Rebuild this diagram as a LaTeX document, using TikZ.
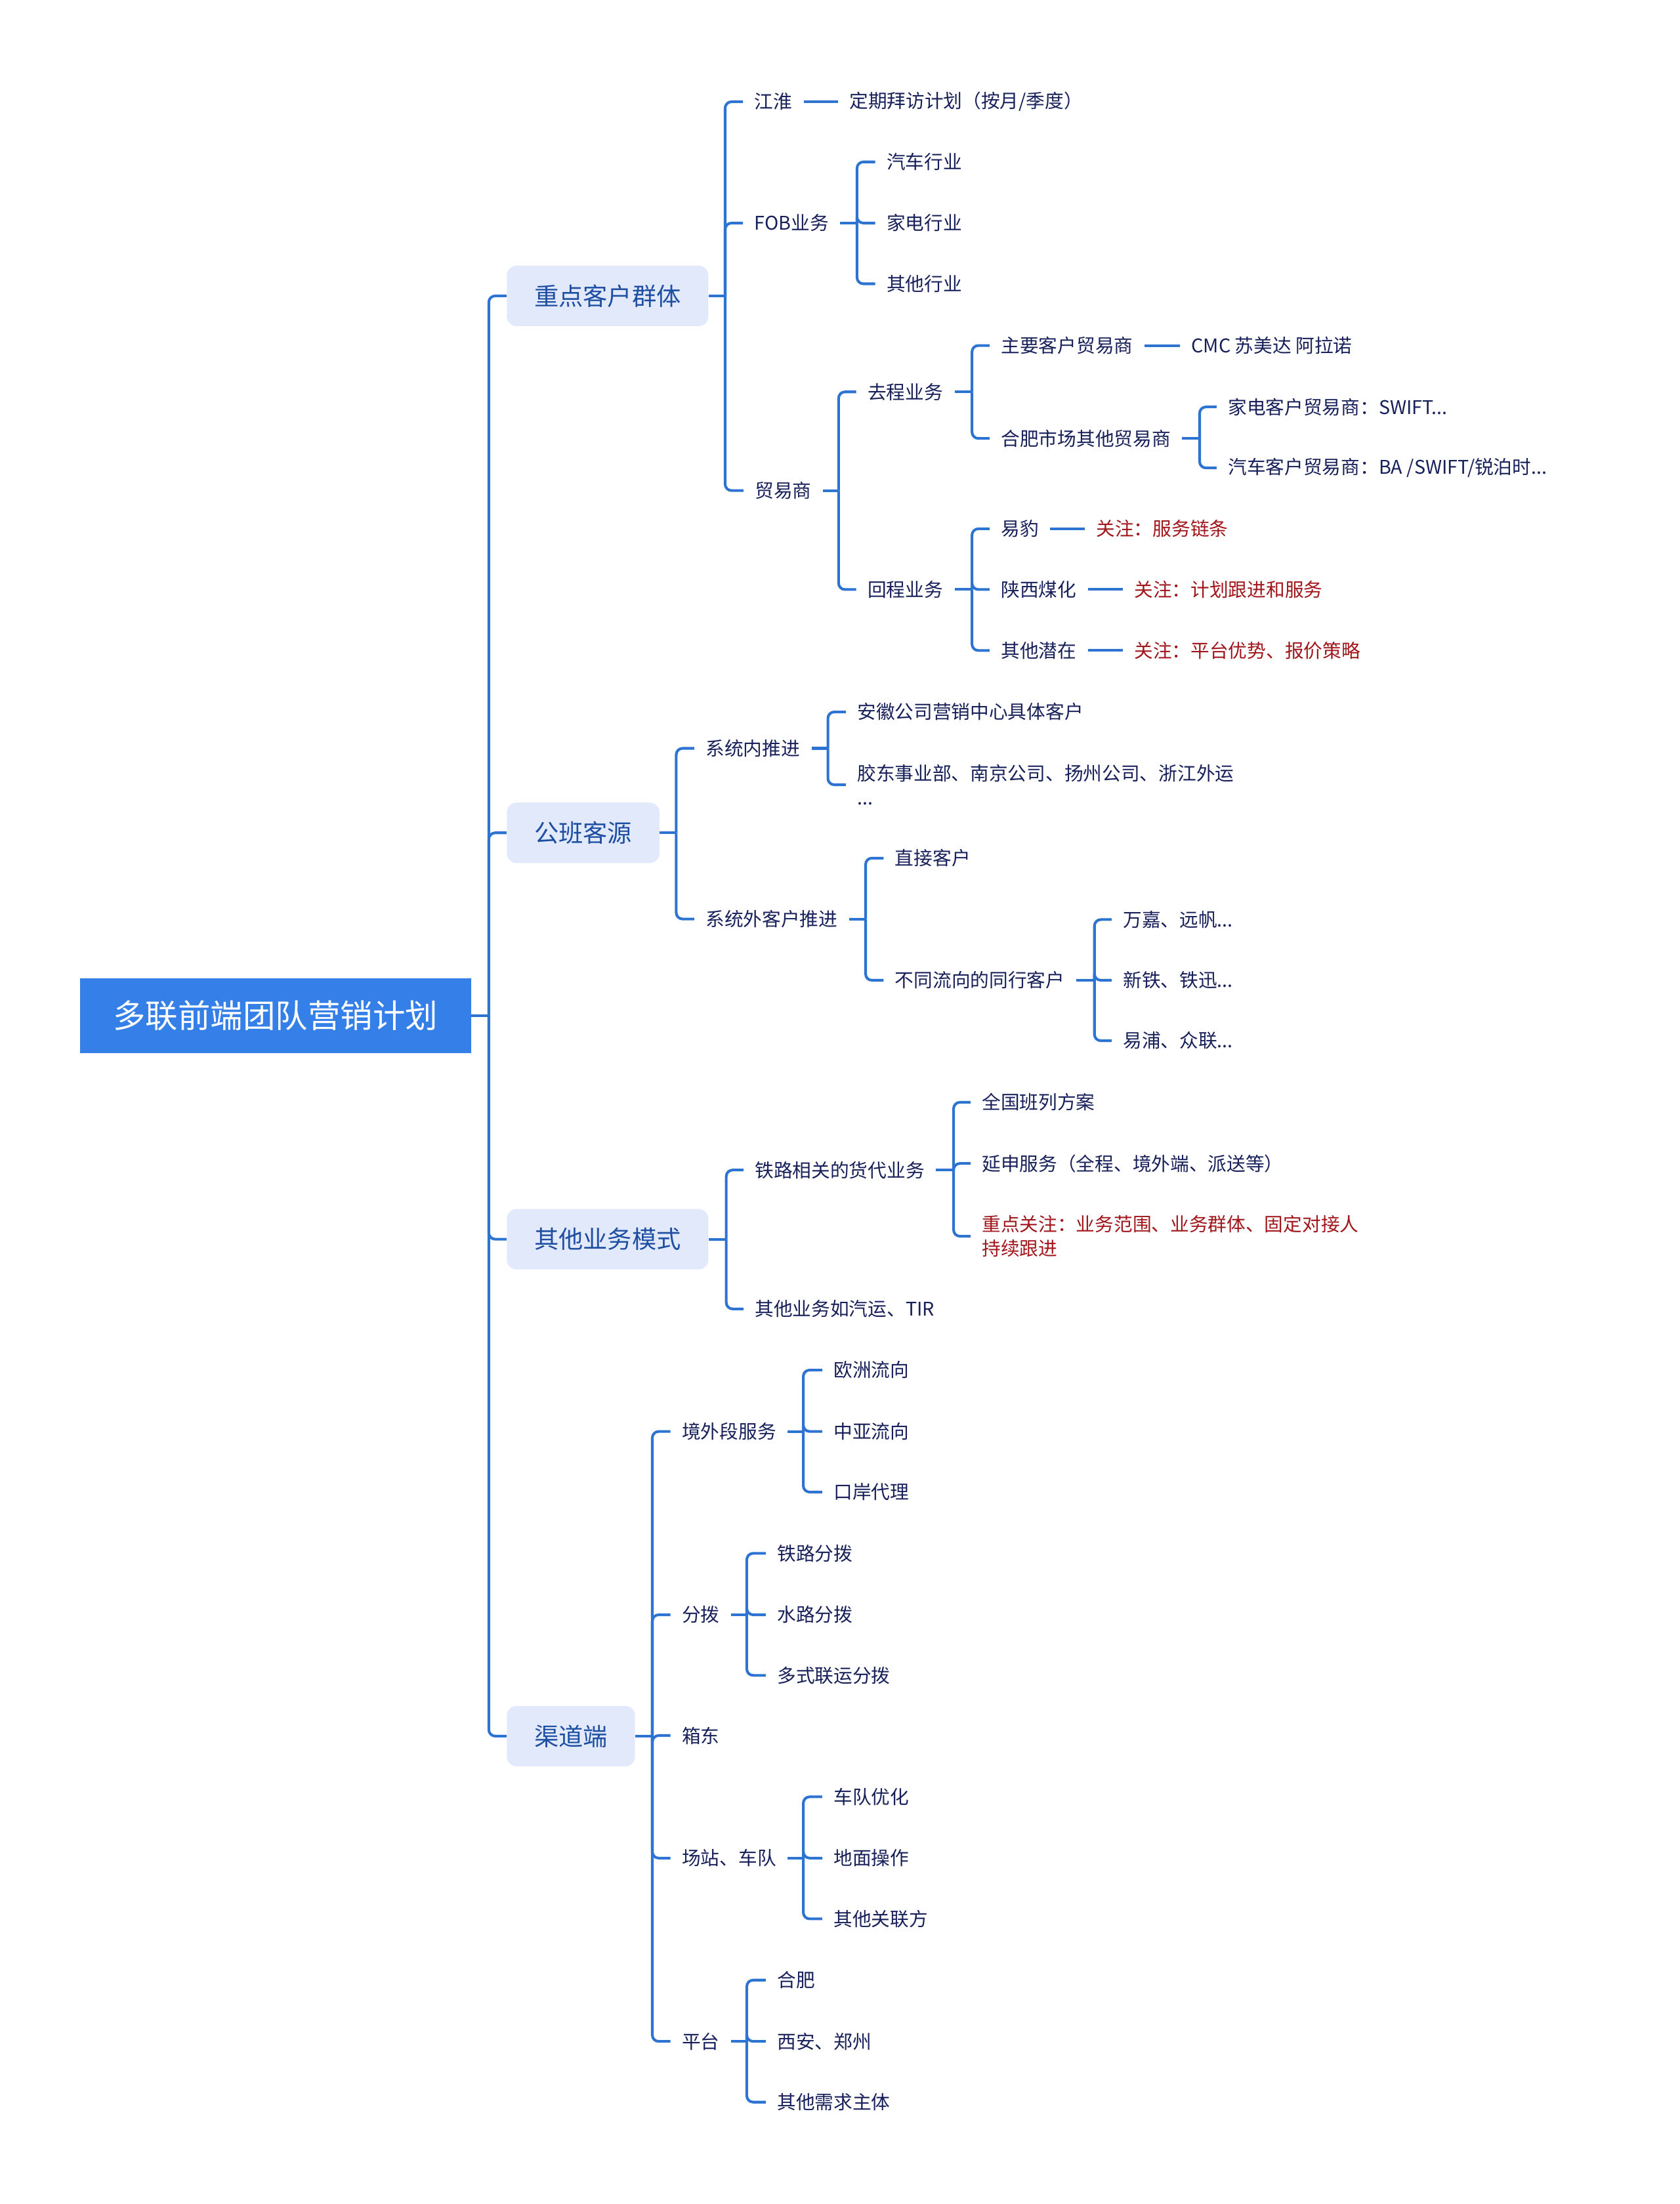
\documentclass[tikz,border=0pt]{standalone}
\usepackage{fontspec}
\newfontfamily\cjk{Noto Sans CJK SC}
\definecolor{rootblue}{HTML}{3580E8}
\definecolor{topicfill}{HTML}{E2E9FB}
\definecolor{topictext}{HTML}{1E4FA3}
\definecolor{leaftext}{HTML}{18205A}
\definecolor{hottext}{HTML}{A0161B}
\definecolor{linkblue}{HTML}{2C73D2}
\begin{document}
\begin{tikzpicture}[x=1pt,y=-1pt,
  conn/.style={draw=linkblue, line width=1.9pt, rounded corners=4.5pt},
  leaf/.style={anchor=west, inner sep=0pt, text=leaftext, align=left,
    font=\cjk\fontsize{13.4}{17.3}\selectfont},
  hot/.style={leaf, text=hottext},
  topic/.style={anchor=west, fill=topicfill, rounded corners=7pt, minimum height=43pt,
    inner xsep=19.5pt, inner ysep=0pt, text=topictext, font=\cjk\fontsize{17.4}{20}\selectfont},
  rootbox/.style={fill=rootblue, minimum width=278pt, minimum height=53pt, inner sep=0pt,
    text=white, font=\cjk\fontsize{23.1}{26}\selectfont}]
\useasboundingbox (0,0) rectangle (1195,1568);
\newcommand\stub[2]{\draw[conn] ([xshift=8pt]#1.east) -- (#2);}
\newcommand\kid[2]{\draw[conn] (#1) |- ([xshift=-8pt]#2.west);}
\newcommand\solo[2]{\draw[conn] ([xshift=8pt]#1.east) -- ([xshift=-8pt]#2.west);}

% root and topics
\node[rootbox] (R) at (196,722.5) {多联前端团队营销计划};
\node[topic] (A) at (360.3,210.5) {重点客户群体};
\node[topic] (B) at (360.3,592.5) {公班客源};
\node[topic] (C) at (360.3,881.6) {其他业务模式};
\node[topic] (D) at (360.3,1235.1) {渠道端};
\coordinate (sR) at (347.7,722.5);
\draw[conn] (R.east) -- (sR);
\foreach \n in {A,B,C,D} {\draw[conn] (sR) |- (\n.west);}

% ---------- A ----------
\node[leaf] (A1) at (536.5,72.4) {江淮};
\node[leaf] (A1a) at (604,72.4) {定期拜访计划（按月/季度）};
\node[leaf] (A2) at (536.5,158.7) {FOB业务};
\node[leaf] (A2a) at (630.5,115.2) {汽车行业};
\node[leaf] (A2b) at (630.5,158.7) {家电行业};
\node[leaf] (A2c) at (630.5,201.9) {其他行业};
\node[leaf] (A3) at (536.8,349) {贸易商};
\node[leaf] (A3a) at (617,278.8) {去程业务};
\node[leaf] (A3b) at (617,419.4) {回程业务};
\node[leaf] (A3a1) at (711.9,245.8) {主要客户贸易商};
\node[leaf] (A3a1x) at (847.3,245.8) {CMC 苏美达 阿拉诺};
\node[leaf] (A3a2) at (711.9,311.9) {合肥市场其他贸易商};
\node[leaf] (A3a2a) at (873.4,289.5) {家电客户贸易商：SWIFT...};
\node[leaf] (A3a2b) at (873.4,332.9) {汽车客户贸易商：BA /SWIFT/锐泊时...};
\node[leaf] (A3b1) at (711.9,376.2) {易豹};
\node[hot] (A3b1x) at (779.6,376.2) {关注：服务链条};
\node[leaf] (A3b2) at (711.9,419.4) {陕西煤化};
\node[hot] (A3b2x) at (806.6,419.4) {关注：计划跟进和服务};
\node[leaf] (A3b3) at (711.9,462.8) {其他潜在};
\node[hot] (A3b3x) at (806.6,462.8) {关注：平台优势、报价策略};

\coordinate (sA) at (515.8,210.5);
\draw[conn] (A.east) -- (sA);
\foreach \c in {A1,A2,A3} {\kid{sA}{\c}}
\solo{A1}{A1a}
\coordinate (sA2) at (609.6,158.7);
\stub{A2}{sA2}
\foreach \c in {A2a,A2b,A2c} {\kid{sA2}{\c}}
\coordinate (sA3) at (596.5,349);
\stub{A3}{sA3}
\foreach \c in {A3a,A3b} {\kid{sA3}{\c}}
\coordinate (sA3a) at (691.4,278.8);
\stub{A3a}{sA3a}
\foreach \c in {A3a1,A3a2} {\kid{sA3a}{\c}}
\solo{A3a1}{A3a1x}
\coordinate (sA3a2) at (853.3,311.9);
\stub{A3a2}{sA3a2}
\foreach \c in {A3a2a,A3a2b} {\kid{sA3a2}{\c}}
\coordinate (sA3b) at (691.4,419.4);
\stub{A3b}{sA3b}
\foreach \c in {A3b1,A3b2,A3b3} {\kid{sA3b}{\c}}
\solo{A3b1}{A3b1x}
\solo{A3b2}{A3b2x}
\solo{A3b3}{A3b3x}

% ---------- B ----------
\node[leaf] (B1) at (501.8,532.4) {系统内推进};
\node[leaf] (B1a) at (609.6,506.5) {安徽公司营销中心具体客户};
\node[leaf] (B1b) at (609.6,558.3) {胶东事业部、南京公司、扬州公司、浙江外运\\...};
\node[leaf] (B2) at (501.8,653.8) {系统外客户推进};
\node[leaf] (B2a) at (636.5,610.5) {直接客户};
\node[leaf] (B2b) at (636.5,697.4) {不同流向的同行客户};
\node[leaf] (B2b1) at (798.7,654.2) {万嘉、远帆...};
\node[leaf] (B2b2) at (798.7,697.4) {新铁、铁迅...};
\node[leaf] (B2b3) at (798.7,740.4) {易浦、众联...};

\coordinate (sB) at (481,592.5);
\draw[conn] (B.east) -- (sB);
\foreach \c in {B1,B2} {\kid{sB}{\c}}
\coordinate (sB1) at (588.9,532.4);
\stub{B1}{sB1}
\foreach \c in {B1a,B1b} {\kid{sB1}{\c}}
\coordinate (sB2) at (615.7,653.8);
\stub{B2}{sB2}
\foreach \c in {B2a,B2b} {\kid{sB2}{\c}}
\coordinate (sB2b) at (778.5,697.4);
\stub{B2b}{sB2b}
\foreach \c in {B2b1,B2b2,B2b3} {\kid{sB2b}{\c}}

% ---------- C ----------
\node[leaf] (C1) at (536.8,832.4) {铁路相关的货代业务};
\node[leaf] (C1a) at (698.3,784.2) {全国班列方案};
\node[leaf] (C1b) at (698.3,827.7) {延申服务（全程、境外端、派送等）};
\node[hot] (C1c) at (698.3,879.5) {重点关注：业务范围、业务群体、固定对接人\\持续跟进};
\node[leaf] (C2) at (536.8,931.2) {其他业务如汽运、TIR};

\coordinate (sC) at (516.6,881.6);
\draw[conn] (C.east) -- (sC);
\foreach \c in {C1,C2} {\kid{sC}{\c}}
\coordinate (sC1) at (678.3,832.4);
\stub{C1}{sC1}
\foreach \c in {C1a,C1b,C1c} {\kid{sC1}{\c}}

% ---------- D ----------
\node[leaf] (D1) at (484.9,1018.4) {境外段服务};
\node[leaf] (D1a) at (592.8,974.7) {欧洲流向};
\node[leaf] (D1b) at (592.8,1018.4) {中亚流向};
\node[leaf] (D1c) at (592.8,1061.5) {口岸代理};
\node[leaf] (D2) at (484.9,1148.8) {分拨};
\node[leaf] (D2a) at (552.7,1105.1) {铁路分拨};
\node[leaf] (D2b) at (552.7,1148.8) {水路分拨};
\node[leaf] (D2c) at (552.7,1191.9) {多式联运分拨};
\node[leaf] (D3) at (484.9,1234.7) {箱东};
\node[leaf] (D4) at (484.9,1321.9) {场站、车队};
\node[leaf] (D4a) at (592.8,1278.3) {车队优化};
\node[leaf] (D4b) at (592.8,1321.9) {地面操作};
\node[leaf] (D4c) at (592.8,1365.1) {其他关联方};
\node[leaf] (D5) at (484.9,1452.3) {平台};
\node[leaf] (D5a) at (552.7,1408.7) {合肥};
\node[leaf] (D5b) at (552.7,1452.3) {西安、郑州};
\node[leaf] (D5c) at (552.7,1495.5) {其他需求主体};

\coordinate (sD) at (464,1235.1);
\draw[conn] (D.east) -- (sD);
\foreach \c in {D1,D2,D3,D4,D5} {\kid{sD}{\c}}
\coordinate (sD1) at (571.4,1018.4);
\stub{D1}{sD1}
\foreach \c in {D1a,D1b,D1c} {\kid{sD1}{\c}}
\coordinate (sD2) at (531.2,1148.8);
\stub{D2}{sD2}
\foreach \c in {D2a,D2b,D2c} {\kid{sD2}{\c}}
\coordinate (sD4) at (571.4,1321.9);
\stub{D4}{sD4}
\foreach \c in {D4a,D4b,D4c} {\kid{sD4}{\c}}
\coordinate (sD5) at (531.2,1452.3);
\stub{D5}{sD5}
\foreach \c in {D5a,D5b,D5c} {\kid{sD5}{\c}}
\end{tikzpicture}
\end{document}
